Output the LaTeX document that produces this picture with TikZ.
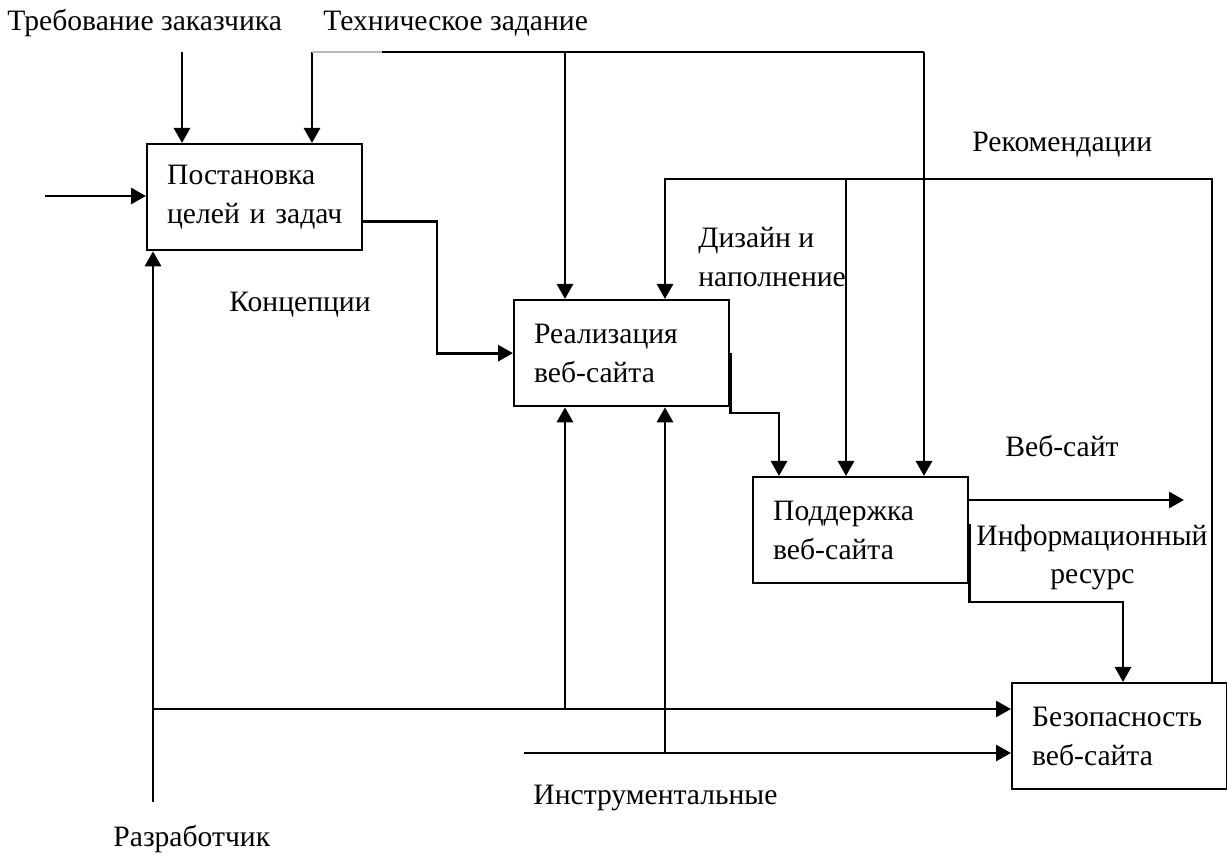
\documentclass[tikz,border=0pt]{standalone}
\usepackage{fontspec}
\setmainfont{Liberation Serif}
\usetikzlibrary{arrows.meta}
\begin{document}
\begin{tikzpicture}[x=0.5pt,y=-0.5pt,
  every node/.style={font=\fontsize{14.8pt}{19.5pt}\selectfont},
  box/.style={draw, line width=1.15pt, rectangle, anchor=north west, align=left,
    inner xsep=10pt, inner ysep=0pt, text width=87.5pt,
    minimum width=107.5pt, minimum height=53pt},
  lbl/.style={anchor=base west, inner sep=0pt},
  ln/.style={line width=1.45pt},
  arr/.style={line width=1.45pt, -{Triangle[length=7.5pt,width=8pt]}}]
\useasboundingbox (0,0) rectangle (1227,860);

% boxes
\node[box] (A) at (146,143) {Постановка\\\mbox{целей и задач}};
\node[box] (B) at (513,299) {Реализация\\веб-сайта};
\node[box] (C) at (752,476) {Поддержка\\веб-сайта};
\node[box] (D) at (1011,682) {\mbox{Безопасность}\\веб-сайта};

% labels
\node[lbl] (tTreb) at (7,31) {Требование заказчика};
\node[lbl] (tTZ) at (323,31) {Техническое задание};
\node[lbl] (tRec) at (972,152) {Рекомендации};
\node[lbl] (tDiz1) at (698,248) {Дизайн и};
\node[lbl] (tDiz2) at (698,287) {наполнение};
\node[lbl] (tKon) at (229,312) {Концепции};
\node[lbl] (tWeb) at (1005,457) {Веб-сайт};
\node[lbl] (tInf1) at (976,546) {Информационный};
\node[lbl] (tInf2) at (1050,584) {ресурс};
\node[lbl] (tInstr) at (533,805) {Инструментальные};
\node[lbl] (tDev) at (113,847) {Разработчик};

% free ends / bends
\coordinate (inA) at (45,196);
\coordinate (treb) at (182,52);
\coordinate (tz) at (312,52);
\coordinate (tzG) at (382,52);
\coordinate (tzB) at (565,52);
\coordinate (tzC) at (924,52);
\coordinate (dev) at (153,802);
\coordinate (j1) at (153,709);
\coordinate (j2) at (565,709);
\coordinate (tool) at (524,753);
\coordinate (j3) at (665,753);
\coordinate (kB) at (779,413);
\coordinate (r1) at (1212,179);
\coordinate (r2) at (846,179);
\coordinate (rec) at (665,179);
\coordinate (web) at (1184,500);
\coordinate (kC) at (1123,602);

% inputs and controls of A
\draw[arr] (inA) -- (inA -| A.west);
\draw[arr] (treb) -- (treb |- A.north);
\draw[arr] (tz) -- (tz |- A.north);
\draw[gray!55, line width=0.7pt] (tz) -- (tzG);
\draw[ln] (tzG) -- (tzC);
\draw[arr] (tzB) -- (tzB |- B.north);
\draw[arr] (tzC) -- (tzC |- C.north);

% A -> B
\draw[arr] ([yshift=-12pt]A.east) -| ([xshift=-38pt]B.west) -- (B.west);

% developer
\draw[arr] (dev) -- (dev |- A.south);
\draw[arr] (j1) -- (j1 -| D.west);
\draw[arr] (j2) -- (j2 |- B.south);

% tools
\draw[arr] (tool) -- (tool -| D.west);
\draw[arr] (j3) -- (j3 |- B.south);

% B -> C
\draw[arr] (B.east) |- (kB) -- (kB |- C.north);

% recommendations loop
\draw[arr] (r1 |- D.north) -- (r1) -- (rec) -- (rec |- B.north);
\draw[arr] (r2) -- (r2 |- C.north);

% C outputs
\draw[arr] (C.east |- web) -- (web);
\draw[arr] ([yshift=3pt]C.east) |- (kC) -- (kC |- D.north);
\end{tikzpicture}
\end{document}
